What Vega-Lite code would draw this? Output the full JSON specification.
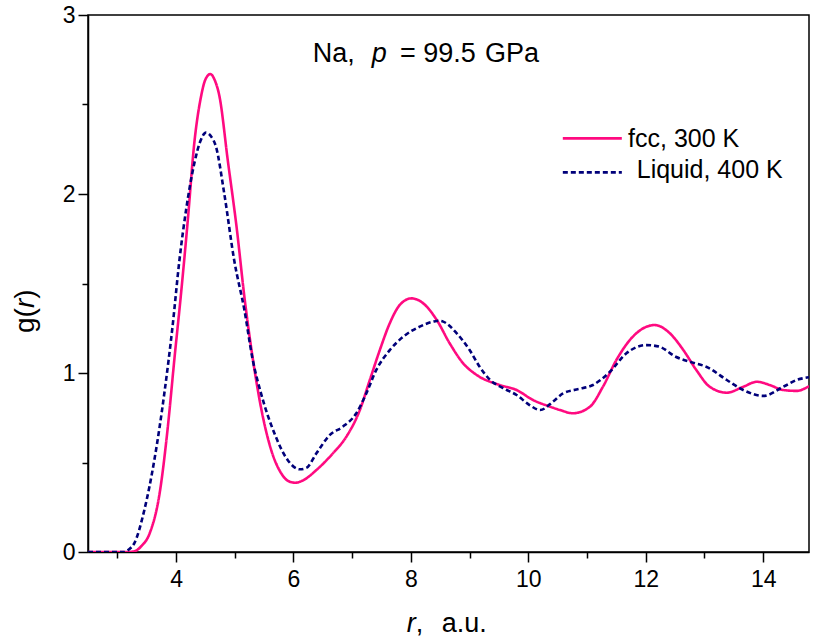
{
  "$schema": "https://vega.github.io/schema/vega-lite/v6.json",
  "width": 721,
  "height": 537,
  "autosize": {"type": "none"},
  "padding": {"left": 88, "top": 15, "right": 6, "bottom": 87},
  "background": "white",
  "config": {
    "view": {"stroke": "black", "strokeWidth": 1.5},
    "font": "Liberation Sans",
    "text": {"font": "Liberation Sans", "color": "black", "align": "left", "baseline": "alphabetic"}
  },
  "datasets": {
    "gr": [
      {"series": "fcc", "r": 2.5, "g": 0},
      {"series": "fcc", "r": 3.0, "g": 0},
      {"series": "fcc", "r": 3.2, "g": 0},
      {"series": "fcc", "r": 3.3, "g": 0.005},
      {"series": "fcc", "r": 3.4, "g": 0.03},
      {"series": "fcc", "r": 3.55, "g": 0.104},
      {"series": "fcc", "r": 3.72, "g": 0.328},
      {"series": "fcc", "r": 3.86, "g": 0.70},
      {"series": "fcc", "r": 3.97, "g": 1.073},
      {"series": "fcc", "r": 4.085, "g": 1.445},
      {"series": "fcc", "r": 4.2, "g": 1.855},
      {"series": "fcc", "r": 4.31, "g": 2.283},
      {"series": "fcc", "r": 4.425, "g": 2.544},
      {"series": "fcc", "r": 4.5, "g": 2.64},
      {"series": "fcc", "r": 4.585, "g": 2.67},
      {"series": "fcc", "r": 4.66, "g": 2.635},
      {"series": "fcc", "r": 4.74, "g": 2.544},
      {"series": "fcc", "r": 4.88, "g": 2.19},
      {"series": "fcc", "r": 5.03, "g": 1.817},
      {"series": "fcc", "r": 5.17, "g": 1.408},
      {"series": "fcc", "r": 5.31, "g": 1.073},
      {"series": "fcc", "r": 5.455, "g": 0.793},
      {"series": "fcc", "r": 5.62, "g": 0.57},
      {"series": "fcc", "r": 5.79, "g": 0.44},
      {"series": "fcc", "r": 5.92, "g": 0.395},
      {"series": "fcc", "r": 6.03, "g": 0.387},
      {"series": "fcc", "r": 6.15, "g": 0.398},
      {"series": "fcc", "r": 6.39, "g": 0.458},
      {"series": "fcc", "r": 6.67, "g": 0.551},
      {"series": "fcc", "r": 6.9, "g": 0.644},
      {"series": "fcc", "r": 7.13, "g": 0.793},
      {"series": "fcc", "r": 7.3, "g": 0.961},
      {"series": "fcc", "r": 7.47, "g": 1.128},
      {"series": "fcc", "r": 7.64, "g": 1.278},
      {"series": "fcc", "r": 7.81, "g": 1.38},
      {"series": "fcc", "r": 8.01, "g": 1.417},
      {"series": "fcc", "r": 8.21, "g": 1.389},
      {"series": "fcc", "r": 8.44, "g": 1.296},
      {"series": "fcc", "r": 8.66, "g": 1.166},
      {"series": "fcc", "r": 8.89, "g": 1.054},
      {"series": "fcc", "r": 9.12, "g": 0.989},
      {"series": "fcc", "r": 9.51, "g": 0.933},
      {"series": "fcc", "r": 9.8, "g": 0.905},
      {"series": "fcc", "r": 10.08, "g": 0.849},
      {"series": "fcc", "r": 10.37, "g": 0.812},
      {"series": "fcc", "r": 10.54, "g": 0.793},
      {"series": "fcc", "r": 10.76, "g": 0.775},
      {"series": "fcc", "r": 11.05, "g": 0.812},
      {"series": "fcc", "r": 11.27, "g": 0.923},
      {"series": "fcc", "r": 11.5, "g": 1.073},
      {"series": "fcc", "r": 11.78, "g": 1.203},
      {"series": "fcc", "r": 12.15, "g": 1.268},
      {"series": "fcc", "r": 12.41, "g": 1.222},
      {"series": "fcc", "r": 12.64, "g": 1.128},
      {"series": "fcc", "r": 12.86, "g": 1.017},
      {"series": "fcc", "r": 13.09, "g": 0.923},
      {"series": "fcc", "r": 13.38, "g": 0.89},
      {"series": "fcc", "r": 13.66, "g": 0.923},
      {"series": "fcc", "r": 13.89, "g": 0.951},
      {"series": "fcc", "r": 14.11, "g": 0.933},
      {"series": "fcc", "r": 14.34, "g": 0.905},
      {"series": "fcc", "r": 14.57, "g": 0.9},
      {"series": "fcc", "r": 14.78, "g": 0.927},
      {"series": "liquid", "r": 2.5, "g": 0},
      {"series": "liquid", "r": 3.0, "g": 0},
      {"series": "liquid", "r": 3.12, "g": 0},
      {"series": "liquid", "r": 3.2, "g": 0.015},
      {"series": "liquid", "r": 3.29, "g": 0.05},
      {"series": "liquid", "r": 3.46, "g": 0.235},
      {"series": "liquid", "r": 3.63, "g": 0.514},
      {"series": "liquid", "r": 3.8, "g": 0.886},
      {"series": "liquid", "r": 3.94, "g": 1.26},
      {"series": "liquid", "r": 4.057, "g": 1.63},
      {"series": "liquid", "r": 4.17, "g": 1.91},
      {"series": "liquid", "r": 4.31, "g": 2.17},
      {"series": "liquid", "r": 4.42, "g": 2.3},
      {"series": "liquid", "r": 4.51, "g": 2.343},
      {"series": "liquid", "r": 4.6, "g": 2.32},
      {"series": "liquid", "r": 4.68, "g": 2.264},
      {"series": "liquid", "r": 4.82, "g": 2.004},
      {"series": "liquid", "r": 4.99, "g": 1.63},
      {"series": "liquid", "r": 5.165, "g": 1.35},
      {"series": "liquid", "r": 5.306, "g": 1.073},
      {"series": "liquid", "r": 5.447, "g": 0.886},
      {"series": "liquid", "r": 5.675, "g": 0.663},
      {"series": "liquid", "r": 5.9, "g": 0.514},
      {"series": "liquid", "r": 6.11, "g": 0.462},
      {"series": "liquid", "r": 6.22, "g": 0.47},
      {"series": "liquid", "r": 6.39, "g": 0.551},
      {"series": "liquid", "r": 6.62, "g": 0.654},
      {"series": "liquid", "r": 6.84, "g": 0.7},
      {"series": "liquid", "r": 7.07, "g": 0.775},
      {"series": "liquid", "r": 7.24, "g": 0.886},
      {"series": "liquid", "r": 7.41, "g": 1.017},
      {"series": "liquid", "r": 7.64, "g": 1.128},
      {"series": "liquid", "r": 7.87, "g": 1.203},
      {"series": "liquid", "r": 8.15, "g": 1.259},
      {"series": "liquid", "r": 8.38, "g": 1.287},
      {"series": "liquid", "r": 8.47, "g": 1.292},
      {"series": "liquid", "r": 8.55, "g": 1.287},
      {"series": "liquid", "r": 8.78, "g": 1.222},
      {"series": "liquid", "r": 9.0, "g": 1.128},
      {"series": "liquid", "r": 9.17, "g": 1.035},
      {"series": "liquid", "r": 9.35, "g": 0.961},
      {"series": "liquid", "r": 9.57, "g": 0.915},
      {"series": "liquid", "r": 9.8, "g": 0.877},
      {"series": "liquid", "r": 10.02, "g": 0.821},
      {"series": "liquid", "r": 10.2, "g": 0.793},
      {"series": "liquid", "r": 10.42, "g": 0.84},
      {"series": "liquid", "r": 10.59, "g": 0.886},
      {"series": "liquid", "r": 10.82, "g": 0.908},
      {"series": "liquid", "r": 11.1, "g": 0.933},
      {"series": "liquid", "r": 11.39, "g": 1.007},
      {"series": "liquid", "r": 11.67, "g": 1.11},
      {"series": "liquid", "r": 12.01, "g": 1.156},
      {"series": "liquid", "r": 12.23, "g": 1.147},
      {"series": "liquid", "r": 12.51, "g": 1.091},
      {"series": "liquid", "r": 12.8, "g": 1.058},
      {"series": "liquid", "r": 13.03, "g": 1.035},
      {"series": "liquid", "r": 13.38, "g": 0.961},
      {"series": "liquid", "r": 13.66, "g": 0.905},
      {"series": "liquid", "r": 14.0, "g": 0.872},
      {"series": "liquid", "r": 14.34, "g": 0.923},
      {"series": "liquid", "r": 14.57, "g": 0.961},
      {"series": "liquid", "r": 14.78, "g": 0.976}
    ]
  },
  "layer": [
    {
      "data": {"name": "gr"},
      "mark": {"type": "line", "interpolate": "monotone", "strokeWidth": 2.6, "clip": true},
      "encoding": {
        "x": {
          "field": "r", "type": "quantitative",
          "scale": {"domain": [2.5, 14.78], "nice": false, "zero": false},
          "axis": {
            "title": null, "grid": false,
            "values": [3, 4, 5, 6, 7, 8, 9, 10, 11, 12, 13, 14],
            "labelExpr": "datum.value % 2 == 0 ? format(datum.value, 'd') : ''",
            "tickSize": {"condition": {"test": "datum.value % 2 == 0", "value": 10}, "value": 6},
            "domainColor": "black", "domainWidth": 1.5,
            "tickColor": "black", "tickWidth": 1.5,
            "labelColor": "black", "labelFont": "Liberation Sans", "labelFontSize": 23,
            "labelPadding": 6, "labelOverlap": false, "labelFlush": false
          }
        },
        "y": {
          "field": "g", "type": "quantitative",
          "scale": {"domain": [0, 3], "nice": false},
          "axis": {
            "title": null, "grid": false,
            "values": [0, 0.5, 1, 1.5, 2, 2.5, 3],
            "labelExpr": "datum.value % 1 == 0 ? format(datum.value, 'd') : ''",
            "tickSize": {"condition": {"test": "datum.value % 1 == 0", "value": 10}, "value": 6},
            "domainColor": "black", "domainWidth": 1.5,
            "tickColor": "black", "tickWidth": 1.5,
            "labelColor": "black", "labelFont": "Liberation Sans", "labelFontSize": 23,
            "labelPadding": 3, "labelOverlap": false, "labelFlush": false
          }
        },
        "color": {
          "field": "series", "type": "nominal",
          "scale": {"domain": ["fcc", "liquid"], "range": ["#ff0a80", "#00007a"]},
          "legend": null
        },
        "strokeDash": {
          "field": "series", "type": "nominal",
          "scale": {"domain": ["fcc", "liquid"], "range": [[1, 0], [5, 3]]},
          "legend": null
        }
      }
    },
    {
      "data": {"values": [{"series": "fcc"}]},
      "mark": {"type": "rule", "color": "#ff0a80", "strokeWidth": 2.6},
      "encoding": {"x": {"datum": 10.587}, "x2": {"datum": 11.592}, "y": {"datum": 2.311}}
    },
    {
      "data": {"values": [{"series": "liquid"}]},
      "mark": {"type": "rule", "color": "#00007a", "strokeWidth": 2.6, "strokeDash": [5, 3]},
      "encoding": {"x": {"datum": 10.587}, "x2": {"datum": 11.592}, "y": {"datum": 2.121}}
    },
    {
      "data": {"values": [{"label": "fcc, 300 K"}]},
      "mark": {"type": "text", "fontSize": 25},
      "encoding": {"text": {"field": "label"}, "x": {"datum": 11.698}, "y": {"datum": 2.264}}
    },
    {
      "data": {"values": [{"label": "Liquid, 400 K"}]},
      "mark": {"type": "text", "fontSize": 25},
      "encoding": {"text": {"field": "label"}, "x": {"datum": 11.846}, "y": {"datum": 2.088}}
    },
    {
      "data": {"values": [{"label": "Na,"}]},
      "mark": {"type": "text", "fontSize": 27},
      "encoding": {"text": {"field": "label"}, "x": {"datum": 6.327}, "y": {"datum": 2.739}}
    },
    {
      "data": {"values": [{"label": "p"}]},
      "mark": {"type": "text", "fontSize": 27, "fontStyle": "italic"},
      "encoding": {"text": {"field": "label"}, "x": {"datum": 7.332}, "y": {"datum": 2.739}}
    },
    {
      "data": {"values": [{"label": "= 99.5"}]},
      "mark": {"type": "text", "fontSize": 27},
      "encoding": {"text": {"field": "label"}, "x": {"datum": 7.814}, "y": {"datum": 2.739}}
    },
    {
      "data": {"values": [{"label": "GPa"}]},
      "mark": {"type": "text", "fontSize": 27},
      "encoding": {"text": {"field": "label"}, "x": {"datum": 9.262}, "y": {"datum": 2.739}}
    },
    {
      "data": {"values": [{"label": "r"}]},
      "mark": {"type": "text", "fontSize": 27, "fontStyle": "italic"},
      "encoding": {"text": {"field": "label"}, "x": {"datum": 7.928}, "y": {"datum": -0.4486}}
    },
    {
      "data": {"values": [{"label": ","}]},
      "mark": {"type": "text", "fontSize": 27},
      "encoding": {"text": {"field": "label"}, "x": {"datum": 8.083}, "y": {"datum": -0.4486}}
    },
    {
      "data": {"values": [{"label": "a.u."}]},
      "mark": {"type": "text", "fontSize": 27},
      "encoding": {"text": {"field": "label"}, "x": {"datum": 8.524}, "y": {"datum": -0.4486}}
    },
    {
      "data": {"values": [{"label": "g("}]},
      "mark": {"type": "text", "fontSize": 28, "angle": 270},
      "encoding": {"text": {"field": "label"}, "x": {"datum": 1.575}, "y": {"datum": 1.2235}}
    },
    {
      "data": {"values": [{"label": "r"}]},
      "mark": {"type": "text", "fontSize": 28, "angle": 270, "fontStyle": "italic"},
      "encoding": {"text": {"field": "label"}, "x": {"datum": 1.575}, "y": {"datum": 1.363}}
    },
    {
      "data": {"values": [{"label": ")"}]},
      "mark": {"type": "text", "fontSize": 28, "angle": 270},
      "encoding": {"text": {"field": "label"}, "x": {"datum": 1.575}, "y": {"datum": 1.4145}}
    }
  ]
}
